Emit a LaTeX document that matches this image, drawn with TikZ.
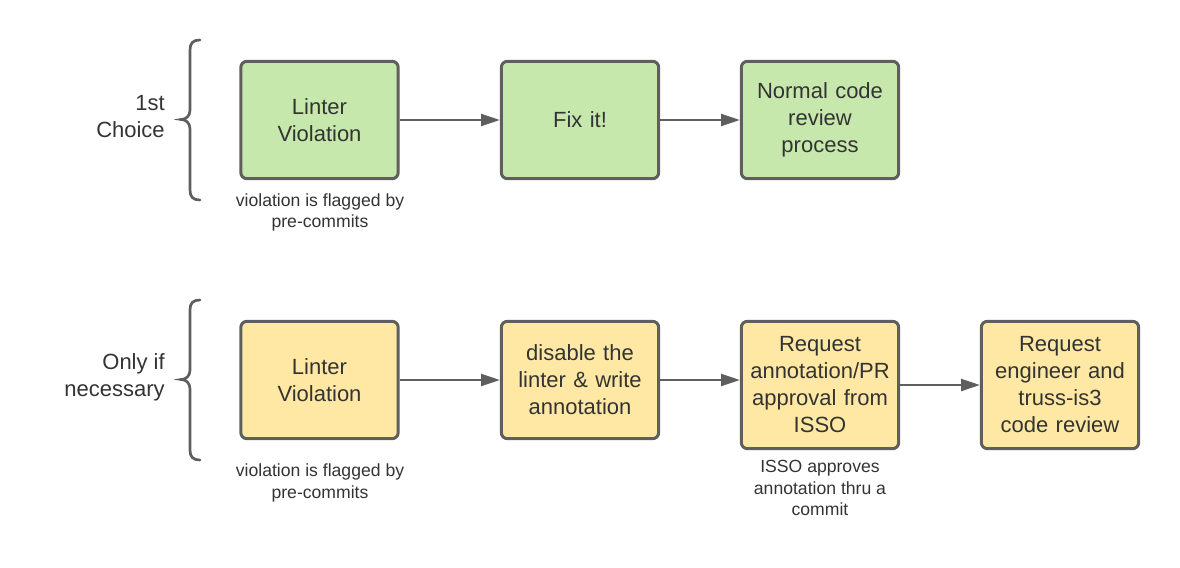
\documentclass[tikz,border=0pt]{standalone}
\usepackage{fontspec}
\setmainfont{Liberation Sans}
\usetikzlibrary{arrows.meta}
\definecolor{boxgreen}{HTML}{C7E8AC}
\definecolor{boxyellow}{HTML}{FFE8A3}
\definecolor{linegray}{HTML}{5E5E5E}
\definecolor{textgray}{HTML}{333333}
\tikzset{
  box/.style={draw=linegray, line width=2.25pt, rounded corners=4.5pt,
    minimum width=118pt, minimum height=88pt, align=center, text width=114pt,
    text=textgray, font=\fontsize{16.5}{20.25}\selectfont, inner sep=0pt},
  gbox/.style={box, fill=boxgreen},
  ybox/.style={box, fill=boxyellow},
  tall/.style={minimum height=95.5pt},
  conn/.style={draw=linegray, line width=1.5pt, -{Triangle[length=14pt,width=9pt]}},
  brace/.style={draw=linegray, line width=2pt, line cap=round},
  caption/.style={align=center, text=textgray, font=\fontsize{13.2}{16}\selectfont, inner sep=0pt},
  side/.style={align=right, text=textgray, font=\fontsize{16.5}{20.25}\selectfont, inner sep=0pt}
}
\begin{document}
\begin{tikzpicture}[x=0.75pt,y=-0.75pt]
\useasboundingbox (0,0) rectangle (1180,567);
% Row 1
\node[gbox] (a1) at (319.5,120) {Linter\\Violation};
\node[gbox] (a2) at (580,120) {Fix it!};
\node[gbox] (a3) at (820,120) {Normal code\\review\\process};
\draw[conn] (a1) -- (a2);
\draw[conn] (a2) -- (a3);
\node[caption] (c1) at (320,212.5) {violation is flagged by\\pre-commits};
\node[side, anchor=east] (s1) at (165,117) {1st\\Choice};
\draw[brace] (200,40) .. controls (193,40) and (190,43) .. (190,50) -- (190,110) .. controls (190,116) and (186,119.5) .. (181,119.5) .. controls (186,119.5) and (190,123) .. (190,129) -- (190,190) .. controls (190,197) and (193,200) .. (200,200);
% Row 2
\node[ybox] (b1) at (319.5,380) {Linter\\Violation};
\node[ybox] (b2) at (580,380) {disable the\\linter \& write\\annotation};
\node[ybox, tall] (b3) at (820,385) {Request\\annotation/PR\\approval from\\ISSO};
\node[ybox, tall] (b4) at (1060,385) {Request\\engineer and\\truss-is3\\code review};
\draw[conn] (b1) -- (b2);
\draw[conn] (b2.east) -- (b2.east -| b3.west);
\draw[conn] (b3) -- (b4);
\node[caption] (c2) at (320,483) {violation is flagged by\\pre-commits};
\node[caption] (c3) at (820,488) {ISSO approves\\annotation thru a\\commit};
\node[side, anchor=east] (s2) at (165,377) {Only if\\necessary};
\draw[brace] (200,300) .. controls (193,300) and (190,303) .. (190,310) -- (190,370) .. controls (190,376) and (186,379.5) .. (181,379.5) .. controls (186,379.5) and (190,383) .. (190,389) -- (190,450) .. controls (190,457) and (193,460) .. (200,460);
\end{tikzpicture}
\end{document}
